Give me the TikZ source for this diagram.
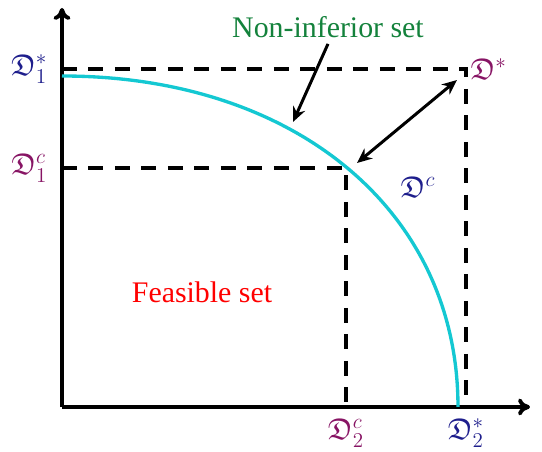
\documentclass[tikz,border=0pt]{standalone}
\usepackage{amssymb}
\usepackage{fontspec}
\setmainfont{Liberation Serif}
\usetikzlibrary{arrows.meta,positioning}
\definecolor{labelpurple}{RGB}{135,20,100}
\definecolor{labelblue}{RGB}{30,30,140}
\definecolor{setgreen}{RGB}{20,130,60}
\definecolor{frontcyan}{RGB}{20,200,210}
\tikzset{
  % Base styles
  diagram base/.style={
    every node/.style={font=\fontsize{17}{20}\selectfont},
  },
  % Lines
  axis line/.style={line width=2.2pt, -{To[length=2.4mm,width=3.4mm]}},
  guide line/.style={line width=2.1pt, dash pattern=on 3mm off 2.3mm},
  front line/.style={line width=1.9pt, frontcyan},
  pointer/.style={line width=1.7pt, -{Stealth[length=3mm,width=2.6mm,inset=1mm]}},
  both pointer/.style={line width=1.7pt, {Stealth[length=3mm,width=2.6mm,inset=1mm]}-{Stealth[length=3mm,width=2.6mm,inset=1mm]}},
  % Labels
  purple label/.style={text=labelpurple, inner sep=1pt},
  blue label/.style={text=labelblue, inner sep=1pt},
}

\begin{document}
\begin{tikzpicture}[diagram base]
\useasboundingbox (-1.24,-0.9) rectangle (9.6,8.14);

% Axes
\coordinate (O) at (0,0);
\coordinate (xend) at (9.36,0);
\coordinate (yend) at (0,7.98);
\draw[axis line] (O) -- (xend);
\draw[axis line] (O) -- (yend);

% Ideal point and compromise point
\coordinate (Dstar) at (8.08,6.76);
\coordinate (Dc) at (5.68,4.78);
\coordinate (D1s) at (0,6.76);
\coordinate (D1c) at (0,4.78);
\coordinate (D2s) at (8.08,0);
\coordinate (D2c) at (5.68,0);

% Dashed guides
\draw[guide line] (D1s) -- (Dstar) -- (D2s);
\draw[guide line] (D1c) -- (Dc) -- (D2c);

% Non-inferior front
\coordinate (fA) at (0,6.62);
\coordinate (fB) at (7.92,0);
\draw[front line] (fA) .. controls (4.67,6.62) and (7.92,3.91) .. (fB);

% Axis labels
\node[blue label, left=2.5mm of D1s] (lD1s) {$\mathfrak{D}_1^{*}$};
\node[purple label, left=2.5mm of D1c] (lD1c) {$\mathfrak{D}_1^{c}$};
\node[purple label, below=2mm of D2c] (lD2c) {$\mathfrak{D}_2^{c}$};
\node[blue label, below=2mm of D2s] (lD2s) {$\mathfrak{D}_2^{*}$};
\node[purple label, right=0.5mm of Dstar] (lDstar) {$\mathfrak{D}^{*}$};
\node[blue label] (lDc) at (7.12,4.4) {$\mathfrak{D}^{c}$};

% Set labels
\node[text=setgreen] (noninf) at (5.32,7.6) {Non-inferior set};
\node[text=red] (feasible) at (2.8,2.3) {Feasible set};

% Pointers
\coordinate (ninfTip) at (4.62,5.7);
\coordinate (dsTip) at (7.9,6.54);
\coordinate (dcTip) at (5.9,4.88);
\draw[pointer] (noninf.south) -- (ninfTip);
\draw[both pointer] (dcTip) -- (dsTip);
\end{tikzpicture}
\end{document}
